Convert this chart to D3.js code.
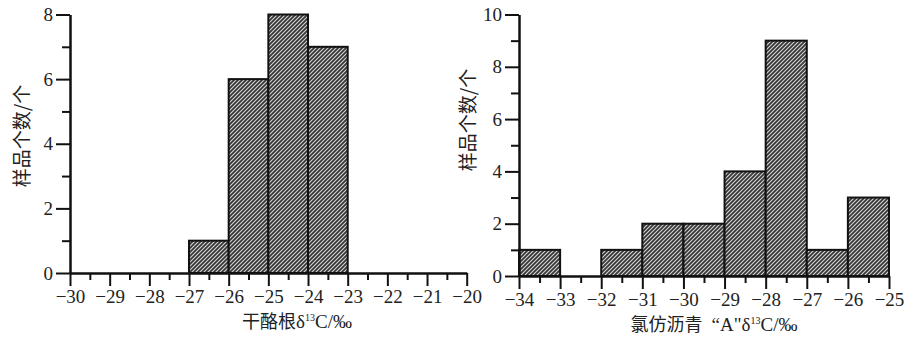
<!DOCTYPE html>
<html>
<head>
<meta charset="utf-8">
<script src="https://cdn.jsdelivr.net/npm/d3@7"></script>
<style>
body { margin: 0; background: #fff; }
svg { display: block; }
</style>
</head>
<body>
<div id="chart"></div>
<script>
// left histogram: kerogen d13C
var leftEdges = [-27, -26, -25, -24, -23];
var leftCounts = [1, 6, 8, 7];
var leftXTicks = [-30, -29, -28, -27, -26, -25, -24, -23, -22, -21, -20];
var leftYTicks = [0, 2, 4, 6, 8];

// right histogram: chloroform bitumen "A" d13C
var rightEdges = [-34, -33, -32, -31, -30, -29, -28, -27, -26, -25];
var rightCounts = [1, 0, 1, 2, 2, 4, 9, 1, 3];
var rightXTicks = [-34, -33, -32, -31, -30, -29, -28, -27, -26, -25];
var rightYTicks = [0, 2, 4, 6, 8, 10];

var yTitle = "样品个数/个";

var SERIF = "'Liberation Serif'";
var CJK = "'Noto Sans CJK SC'";

var svg = d3.select("#chart").append("svg")
	.attr("width", 911)
	.attr("height", 338);

// hatch fill
var pat = svg.append("defs").append("pattern")
	.attr("id", "hatch")
	.attr("patternUnits", "userSpaceOnUse")
	.attr("width", 4)
	.attr("height", 4);
pat.append("rect").attr("width", 4).attr("height", 4).attr("fill", "#353535");
pat.append("path")
	.attr("d", "M-1,1 l2,-2 M0,4 l4,-4 M3,5 l2,-2")
	.attr("stroke", "#d6d6d6")
	.attr("stroke-width", 1.1);

function fmt(d) { return String(d).replace("-", "\u2212"); }

function styleAxis(sel) {
	sel.selectAll("path, line").style("stroke", "#111").style("stroke-width", 2);
	sel.selectAll("text")
		.style("font-family", SERIF)
		.style("font-size", "19px")
		.style("fill", "#222");
}

function drawHist(cfg) {
	var g = svg.append("g");
	var x = d3.scaleLinear().domain(cfg.xDomain).range(cfg.xRange);
	var y = d3.scaleLinear().domain(cfg.yDomain).range(cfg.yRange);

	var bins = cfg.counts.map(function(c, i) { return {x0: cfg.edges[i], x1: cfg.edges[i + 1], n: c}; })
		.filter(function(b) { return b.n > 0; });

	g.selectAll("rect.bar")
		.data(bins)
		.enter().append("rect")
		.attr("class", "bar")
		.attr("x", function(d) { return x(d.x0); })
		.attr("width", function(d) { return x(d.x1) - x(d.x0); })
		.attr("y", function(d) { return y(d.n); })
		.attr("height", function(d) { return y(0) - y(d.n); })
		.attr("fill", "url(#hatch)")
		.attr("stroke", "#111")
		.attr("stroke-width", 2);

	// minor ticks
	var xMinor = cfg.xTicks.slice(0, -1).map(function(d) { return d + 0.5; });
	var yMinor = cfg.yTicks.slice(0, -1).map(function(d) { return d + 1; });

	g.append("g")
		.attr("transform", "translate(0," + y(0) + ")")
		.call(d3.axisBottom(x).tickValues(xMinor).tickSize(7).tickSizeOuter(0).tickFormat(""))
		.call(styleAxis);
	g.append("g")
		.attr("transform", "translate(" + x(cfg.xDomain[0]) + ",0)")
		.call(d3.axisLeft(y).tickValues(yMinor).tickSize(8).tickSizeOuter(0).tickFormat(""))
		.call(styleAxis);

	g.append("g")
		.attr("transform", "translate(0," + y(0) + ")")
		.call(d3.axisBottom(x).tickValues(cfg.xTicks).tickSize(13).tickSizeOuter(0).tickPadding(4).tickFormat(fmt))
		.call(styleAxis);
	g.append("g")
		.attr("transform", "translate(" + x(cfg.xDomain[0]) + ",0)")
		.call(d3.axisLeft(y).tickValues(cfg.yTicks).tickSize(14).tickSizeOuter(0).tickPadding(3).tickFormat(fmt))
		.call(styleAxis);

	// axis titles
	g.append("text")
		.attr("transform", "translate(" + cfg.yTitlePos[0] + "," + cfg.yTitlePos[1] + ") rotate(-90)")
		.attr("text-anchor", "middle")
		.attr("dy", "0.35em")
		.style("font-family", CJK).style("font-size", "19px").style("fill", "#222")
		.text(yTitle);

	var t = g.append("text")
		.attr("x", cfg.xTitlePos[0]).attr("y", cfg.xTitlePos[1])
		.attr("text-anchor", "middle")
		.style("font-family", CJK).style("font-size", "18px").style("fill", "#222");
	t.append("tspan").text(cfg.xTitle);
	if (cfg.xTitleTag) t.append("tspan").attr("dx", 9).style("font-family", SERIF).style("font-size", "19px").text(cfg.xTitleTag);
	t.append("tspan").style("font-family", SERIF).style("font-size", "19px").text("δ");
	t.append("tspan").attr("dy", -7).style("font-family", SERIF).style("font-size", "10px").text("13");
	t.append("tspan").attr("dy", 7).style("font-family", SERIF).style("font-size", "19px").text("C/‰");
}

drawHist({
	edges: leftEdges, counts: leftCounts, xTicks: leftXTicks, yTicks: leftYTicks,
	xDomain: [-30, -20], xRange: [70, 466.7],
	yDomain: [0, 8], yRange: [273, 14.5],
	xTitle: "干酪根", xTitlePos: [297, 328],
	yTitlePos: [22, 136]
});

drawHist({
	edges: rightEdges, counts: rightCounts, xTicks: rightXTicks, yTicks: rightYTicks,
	xDomain: [-34, -25], xRange: [519, 889],
	yDomain: [0, 10], yRange: [276, 14.5],
	xTitle: "氯仿沥青", xTitleTag: "“A\"", xTitlePos: [714, 331],
	yTitlePos: [468, 120]
});
</script>
</body>
</html>
